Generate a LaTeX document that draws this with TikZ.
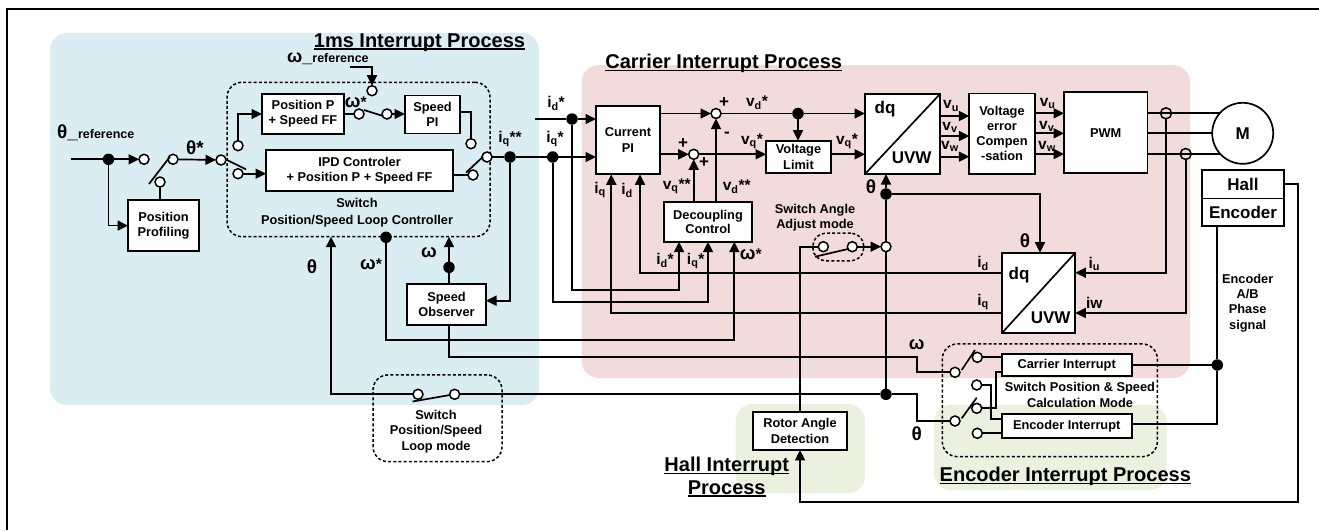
\documentclass[tikz,border=0pt]{standalone}
\usepackage{fontspec}
\setmainfont{Liberation Sans}
\usetikzlibrary{arrows.meta}
\definecolor{panelblue}{HTML}{DAEDF3}
\definecolor{panelred}{HTML}{F2DCDB}
\definecolor{panelgreen}{HTML}{EBF1DE}
\newcommand{\ttlrule}[1]{\setbox0\hbox{#1}\leavevmode\rlap{\rule[-2.4pt]{\wd0}{1.5pt}}\box0}
\newcommand{\fsz}[1]{\fontsize{#1}{#1}\selectfont\bfseries}
\newcommand{\gk}[1]{{\fsz{18.5}#1}}
\tikzset{
  block/.style={draw, fill=white, line width=1.7pt, align=center, inner sep=0pt, outer sep=0pt, font=\fsz{12.8}},
  dashbox/.style={draw, line width=1.5pt, dash pattern=on 3pt off 2.2pt, rounded corners=15pt, inner sep=0pt, outer sep=0pt},
  pin/.style={circle, draw, fill=white, line width=1.5pt, minimum size=10pt, inner sep=0pt, outer sep=0pt},
  dot/.style={circle, fill=black, minimum size=11.5pt, inner sep=0pt, outer sep=0pt},
  ring/.style={circle, draw, line width=1.5pt, minimum size=11pt, inner sep=0pt, outer sep=0pt},
  lab/.style={inner sep=0pt, font=\fsz{15.5}},
  txt/.style={inner sep=0pt, align=center, font=\fsz{12.8}},
  ttl/.style={inner sep=0pt, align=center, font=\fsz{20}},
  wire/.style={line width=1.7pt},
  flow/.style={wire, -{Triangle[length=10.5pt,width=10pt]}},
}
\begin{document}
\begin{tikzpicture}[x=1pt, y=-1pt]
  \useasboundingbox (0,0) rectangle (1319,530);
  \draw[line width=2pt] (6.7,530) -- (6.7,9) -- (1319,9);
  % panels
  \fill[panelblue, rounded corners=17pt] (50,33) rectangle (539,405);
  \fill[panelred, rounded corners=17pt] (581.7,65) rectangle (1190,378);
  \fill[panelgreen, rounded corners=17pt] (735.7,404) rectangle (865,493);
  \fill[panelgreen, rounded corners=17pt] (934,405) rectangle (1166.7,490);

  % titles
  \node[ttl] (t1ms) at (419.5,42.5) {\ttlrule{1ms Interrupt Process}};
  \node[ttl] (tcarrier) at (723.7,63.5) {\ttlrule{Carrier Interrupt Process}};
  \node[ttl] (thall) at (726.7,477) {\ttlrule{Hall Interrupt}\\[2.6pt]\ttlrule{Process}};
  \node[ttl] (tenc) at (1065.3,476.5) {\ttlrule{Encoder Interrupt Process}};

  % dotted groups
  \node[dashbox, minimum width=263pt, minimum height=154.4pt] (loopbox) at (358.5,159.5) {};
  \node[dashbox, minimum width=129pt, minimum height=86.7pt] (modebox) at (437.5,418.3) {};
  \node[dashbox, rounded corners=13pt, minimum width=51pt, minimum height=27.7pt] (anglebox) at (838.3,247) {};
  \node[dashbox, minimum width=215pt, minimum height=112.7pt] (calcbox) at (1049.8,400.3) {};

  % blocks
  \node[block, minimum width=82pt, minimum height=40pt] (posp) at (303,114) {Position P\\[2.3pt]+ Speed FF};
  \node[block, minimum width=55pt, minimum height=38pt] (speedpi) at (432.5,114.5) {Speed\\[2.3pt]PI};
  \node[block, minimum width=187pt, minimum height=41pt] (ipd) at (359.5,170.6) {IPD Controler\\[2pt]+ Position P + Speed FF};
  \node[block, minimum width=71pt, minimum height=51pt] (prof) at (163.5,225.6) {Position\\[2pt]Profiling};
  \node[block, minimum width=79pt, minimum height=41pt] (obs) at (446.5,304.5) {Speed\\[2.3pt]Observer};
  \node[block, minimum width=64pt, minimum height=68.6pt] (curpi) at (628,140) {Current\\[3.3pt]PI};
  \node[block, minimum width=65pt, minimum height=32.6pt] (vlim) at (798.5,157) {Voltage\\[3pt]Limit};
  \node[block, minimum width=88pt, minimum height=40pt] (decoup) at (708,221.7) {Decoupling\\[1.6pt]Control};
  \node[block, minimum width=75pt, minimum height=80pt] (dqa) at (902.5,134) {};
  \node[block, minimum width=65.4pt, minimum height=80.7pt] (vec) at (1002,133.7) {Voltage\\[2.3pt]error\\[2.3pt]Compen\\[2.3pt]-sation};
  \node[block, minimum width=83.3pt, minimum height=81pt] (pwm) at (1105.7,132.8) {PWM};
  \node[block, minimum width=73.6pt, minimum height=80.6pt] (dqb) at (1038.5,293) {};
  \node[block, minimum width=82.6pt, minimum height=28.3pt, font=\fsz{17}] (hall) at (1243,184.2) {Hall};
  \node[block, minimum width=82.6pt, minimum height=27.7pt, font=\fsz{17}] (enc) at (1243,212.2) {Encoder};
  \node[block, minimum width=93.4pt, minimum height=38.3pt] (rotor) at (800,430.8) {Rotor Angle\\[2.6pt]Detection};
  \node[block, minimum width=130pt, minimum height=21.7pt] (carrier) at (1066.7,364.8) {Carrier Interrupt};
  \node[block, minimum width=130pt, minimum height=24pt] (encint) at (1066.7,426.3) {Encoder Interrupt};
  \node[circle, draw, fill=white, line width=1.7pt, minimum size=61pt, inner sep=0pt, outer sep=0pt, font=\fsz{17}] (motor) at (1242.7,133.3) {M};

  \draw[wire] (dqa.south west) -- (dqa.north east);
  \draw[wire] (dqb.south west) -- (dqb.north east);
  \node[lab, font=\fsz{17}] (dqatop) at (885,109.3) {dq};
  \node[lab, font=\fsz{17}] (dqabot) at (911.7,157.3) {UVW};
  \node[lab, font=\fsz{17}] (dqbtop) at (1019,275) {dq};
  \node[lab, font=\fsz{17}] (dqbbot) at (1050.7,317.3) {UVW};

  % switch contacts
  \node[pin] (pinin) at (144,159.3) {};
  \node[pin] (pinth) at (173,159.3) {};
  \node[pin] (pinprof) at (160,182) {};
  \node[pin] (pinl) at (221,160) {};
  \node[pin] (pinlb) at (238,173.7) {};
  \node[pin] (pinlt) at (238,145.7) {};
  \node[pin] (pinrt) at (487,157) {};
  \node[pin] (pinrb) at (473,175) {};
  \node[pin] (pinrs) at (471,143.7) {};
  \node[pin] (pinwr) at (372,90.7) {};
  \node[pin] (pinwa) at (359,114) {};
  \node[pin] (pinwb) at (387,114) {};
  \node[pin] (pinsa) at (418,394.3) {};
  \node[pin] (pinsb) at (454.6,394.3) {};
  \node[pin] (pinang) at (886,246.7) {};
  \node[pin] (pinaa) at (823.3,246.7) {};
  \node[pin] (pinab) at (852.3,246.7) {};
  \node[pin] (pinea) at (955,372.3) {};
  \node[pin] (pineb) at (955,421) {};
  \node[pin] (pinca) at (977.3,357.3) {};
  \node[pin] (pincb) at (976.7,385) {};
  \node[pin] (pincc) at (976.7,408.3) {};
  \node[pin] (pincd) at (977.3,433.3) {};
  \node[pin] (sumd) at (716,113.5) {};
  \node[pin] (sumq) at (693.7,154.3) {};

  % junctions
  \node[dot] (dotin) at (108.5,159.3) {};
  \node[dot] (dotiqq) at (510,157) {};
  \node[dot] (dotiq) at (552.7,157) {};
  \node[dot] (dotid) at (572,119) {};
  \node[dot] (dotwst) at (386,237.3) {};
  \node[dot] (dotw) at (449,267.3) {};
  \node[dot] (dotvd) at (798,113.5) {};
  \node[dot] (dotth) at (886,194) {};
  \node[dot] (dotthb) at (886,394.3) {};
  \node[dot] (dotenc) at (1217.3,365) {};
  \node[ring] (ringu) at (1166,113.3) {};
  \node[ring] (ringw) at (1185.7,154) {};

  % free ends and bends
  \coordinate (thref) at (70.6,159.3);
  \coordinate (wref) at (350,67.3);
  \coordinate (idst) at (535,119);
  \coordinate (thx) at (331,394.3);
  \coordinate (turnw) at (734.3,340);
  \coordinate (turno) at (917.3,357);
  \coordinate (turnt) at (917.3,394.3);
  \coordinate (turnid) at (679,290);
  \coordinate (turniq) at (708,301.7);
  \coordinate (fbid) at (640,272.7);
  \coordinate (fbiq) at (611.3,313);
  \coordinate (thb) at (1040,194);
  \coordinate (turnu) at (1166,272.7);
  \coordinate (turnv) at (1185.7,313);
  \coordinate (turnh) at (1298,502);
  \coordinate (turnca) at (991,419.3);
  \coordinate (turncb) at (995.7,371.7);

  % speed / position loop
  \draw[wire] (thref) -- (dotin);
  \draw[flow] (dotin) -- (pinin);
  \draw[flow] (dotin) |- (prof.west);
  \draw[wire] (pinprof) -- (pinprof |- prof.north);
  \draw[flow] (pinth) -- (pinl);
  \draw[flow] (wref) -| (pinwr.north);
  \draw[flow] (pinlt) |- (posp.west);
  \draw[wire] (posp.east) -- (pinwa);
  \draw[flow] (pinwb) -- (pinwb -| speedpi.west);
  \draw[wire] ([yshift=2.5pt]speedpi.east) -| (pinrs);
  \draw[flow] (pinlb) -- (pinlb -| ipd.west);
  \draw[wire] (ipd.east |- pinrb) -- (pinrb);
  \draw[wire] (pinrt) -- (dotiqq);
  \draw[wire] (dotiqq) -- (dotiq);
  \draw[flow] (dotiq) -- (dotiq -| curpi.west);
  \draw[wire] (idst) -- (dotid);
  \draw[flow] (dotid) -- (dotid -| curpi.west);
  \draw[flow] (dotiqq) |- ([yshift=3.8pt]obs.east);
  \draw[wire] (dotw |- obs.north) -- (dotw);
  \draw[flow] (dotw) -- (dotw |- loopbox.south);
  \draw[flow] (dotwst) |- (turnw) -- (turnw |- decoup.south);
  \draw[wire] (dotw |- obs.south) |- (turno) |- (pinea);
  \draw[flow] (pinsa) -- (thx) -- (thx |- loopbox.south);
  \draw[wire] (pinsb) -- (dotthb);
  \draw[wire] (dotthb) -- (turnt) |- (pineb);

  % current loop
  \draw[flow] (curpi.east |- sumd) -- (sumd);
  \draw[flow] (curpi.east |- sumq) -- (sumq);
  \draw[wire] (sumd) -- (dotvd);
  \draw[flow] (dotvd) -- (dotvd -| dqa.west);
  \draw[flow] (dotvd) -- (dotvd |- vlim.north);
  \draw[flow] (sumq) -- (sumq -| vlim.west);
  \draw[flow] (vlim.east |- sumq) -- (sumq -| dqa.west);
  \draw[flow] (sumq |- decoup.north) -- (sumq);
  \draw[flow] (sumd |- decoup.north) -- (sumd);
  \draw[flow] (dotid) |- (turnid) -- (turnid |- decoup.south);
  \draw[flow] (dotiq) |- (turniq) -- (turniq |- decoup.south);
  \draw[flow] (fbid -| dqb.west) -- (fbid) -- (fbid |- curpi.south);
  \draw[flow] (fbiq -| dqb.west) -- (fbiq) -- (fbiq |- curpi.south);

  % angle
  \draw[wire] (dotthb) -- (pinang);
  \draw[wire] (pinang) -- (dotth);
  \draw[flow] (dotth) -- (dotth |- dqa.south);
  \draw[flow] (dotth) -- (thb) -- (thb |- dqb.north);
  \draw[flow] (pinab) -- (pinang);
  \draw[wire] (pinaa) -| (rotor.north);
  \draw[flow] (hall.east) -| (turnh) -| (rotor.south);

  % inverter side
  \foreach \yv in {116,136,156.7} \draw[flow] (dqa.east |- 0,\yv) -- (vec.west |- 0,\yv);
  \foreach \yv in {113.3,133.3,154} \draw[flow] (vec.east |- 0,\yv) -- (pwm.west |- 0,\yv);
  \draw[wire] (pwm.east |- ringu) -- (motor.139 |- ringu);
  \draw[wire] (pwm.east |- motor.west) -- (motor.west);
  \draw[wire] (pwm.east |- ringw) -- (motor.221 |- ringw);
  \draw[flow] (ringu) -- (turnu) -- (turnu -| dqb.east);
  \draw[flow] (ringw) -- (turnv) -- (turnv -| dqb.east);

  % encoder side
  \draw[wire] (pinca) -- (pinca -| carrier.west);
  \draw[wire] (pincb) -| (turnca) -- (turnca -| encint.west);
  \draw[wire] (pincc) -| (turncb) -- (turncb -| carrier.west);
  \draw[wire] (pincd) -- (pincd -| encint.west);
  \draw[wire] (carrier.east |- dotenc) -- (dotenc);
  \draw[wire] (encint.east |- 0,424) -| (dotenc);
  \draw[wire] (dotenc) -- (dotenc |- enc.south);

  % switch blades
  \draw[wire] (149,184) -- (170,156.7);
  \draw[wire] (364,110) -- (383,116);
  \draw[wire] (227,160) -- (246,169.3);
  \draw[wire] (466,172.7) -- (483,156.7);
  \draw[wire] (412.6,401.5) -- (450,395);
  \draw[wire] (815,256.7) -- (848,249);
  \draw[wire] (961.7,370) -- (975,350);
  \draw[wire] (961.7,418.3) -- (976.7,397.7);

  % labels
  \node[lab, anchor=west] (lbthref) at (57,133) {{\fsz{19}θ\_}{\fsz{12.5}reference}};
  \node[lab, anchor=west] (lbwref) at (287,59) {{\fsz{18}ω\_}{\fsz{12.5}reference}};
  \node[lab, font=\fsz{19}] (lbthst) at (195,148) {θ*};
  \node[lab] (lbwsa) at (355.7,102.3) {\gk{ω}*};
  \node[lab] (lbiqq) at (510,139.3) {i\textsubscript{q}**};
  \node[txt] (lbloop) at (357,212.5) {Switch\\[3.6pt]Position/Speed Loop Controller};
  \node[lab, font=\fsz{19}] (lbthl) at (312,267) {θ};
  \node[lab] (lbwstl) at (371,264) {\gk{ω}*};
  \node[lab] (lbwl) at (429,252.7) {\gk{ω}};
  \node[txt] (lbmode) at (436,431.5) {Switch\\[3pt]Position/Speed\\[3pt]Loop mode};
  \node[lab] (lbid) at (556,103) {i\textsubscript{d}*};
  \node[lab] (lbiq) at (555,139) {i\textsubscript{q}*};
  \node[lab, font=\fsz{17}] (lbplusa) at (724,102.7) {+};
  \node[lab, font=\fsz{17}] (lbplusb) at (683,143.3) {+};
  \node[lab, font=\fsz{17}] (lbplusc) at (704,162.3) {+};
  \node[lab, font=\fsz{17}] (lbminus) at (727,134.3) {-};
  \node[lab] (lbvd) at (757,103) {v\textsubscript{d}*};
  \node[lab] (lbvqa) at (752,141) {v\textsubscript{q}*};
  \node[lab] (lbvqb) at (847,141.7) {v\textsubscript{q}*};
  \node[lab] (lbvqq) at (676.7,186.7) {v\textsubscript{q}**};
  \node[lab] (lbvdd) at (736.7,186.7) {v\textsubscript{d}**};
  \node[lab] (lbfbq) at (600,190) {i\textsubscript{q}};
  \node[lab] (lbfbd) at (627,190) {i\textsubscript{d}};
  \node[lab] (lbdid) at (665,260) {i\textsubscript{d}*};
  \node[lab] (lbdiq) at (695.7,260.7) {i\textsubscript{q}*};
  \node[lab] (lbdw) at (750.7,254) {\gk{ω}*};
  \node[lab, font=\fsz{19}] (lbtha) at (871,187) {θ};
  \node[lab, font=\fsz{19}] (lbthb) at (1025,241) {θ};
  \node[txt] (lbangle) at (815,217.5) {Switch Angle\\[2.3pt]Adjust mode};
  \node[lab] (lbqid) at (983,263.3) {i\textsubscript{d}};
  \node[lab] (lbqiq) at (983,301.7) {i\textsubscript{q}};
  \node[lab] (lbiu) at (1094.3,264.3) {i\textsubscript{u}};
  \node[lab] (lbiw) at (1094.3,303.3) {iw};
  \node[lab] (lbva) at (951,106) {v\textsubscript{u}};
  \node[lab] (lbvb) at (950,127.7) {v\textsubscript{v}};
  \node[lab] (lbvc) at (950,146.7) {v\textsubscript{w}};
  \node[lab] (lbvx) at (1047.7,103.5) {v\textsubscript{u}};
  \node[lab] (lbvy) at (1046.7,126) {v\textsubscript{v}};
  \node[lab] (lbvz) at (1047,146) {v\textsubscript{w}};
  \node[lab] (lbwc) at (916.7,344.3) {\gk{ω}};
  \node[lab, font=\fsz{19}] (lbthc) at (916.7,433.3) {θ};
  \node[txt] (lbcalc) at (1080,394.7) {Switch Position \& Speed\\[3.3pt]Calculation Mode};
  \node[txt] (lbab) at (1247.7,303) {Encoder\\[2.5pt]A/B\\[2.5pt]Phase\\[2.5pt]signal};
\end{tikzpicture}
\end{document}
